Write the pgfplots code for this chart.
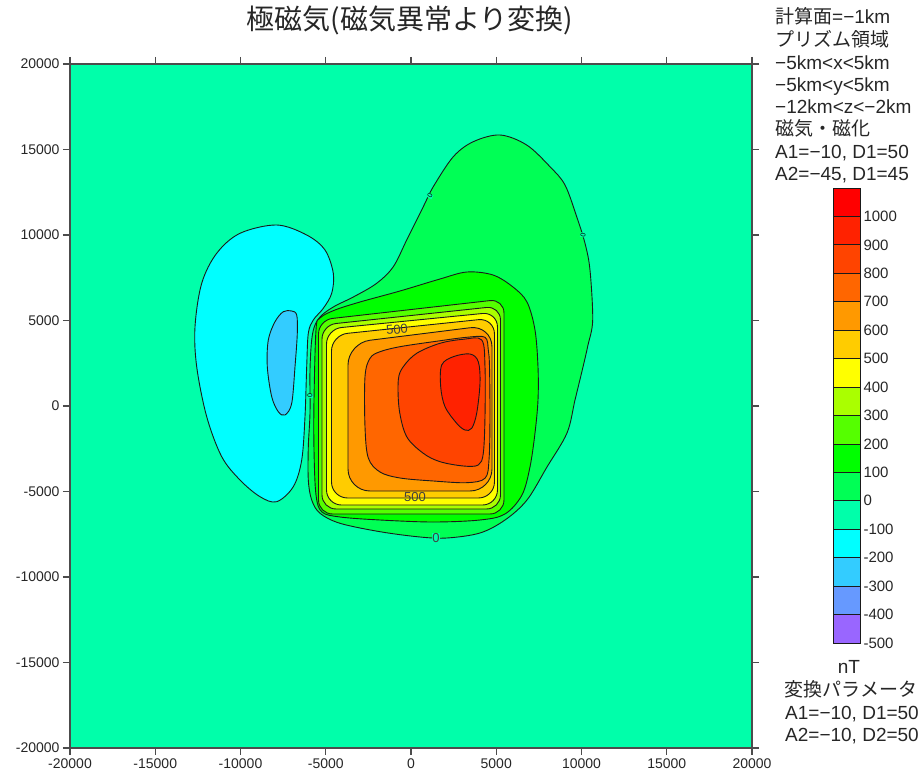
\documentclass[border=0pt]{standalone}
\usepackage{pgfplots}
\pgfplotsset{compat=1.18}
\usepackage{fontspec}
\setmainfont{Liberation Sans}
\newfontfamily\cjk{Noto Sans CJK JP}
\definecolor{mint}{HTML}{00FFAA}
\definecolor{gzero}{HTML}{00FF55}
\definecolor{gone}{HTML}{00FF00}
\definecolor{ctwo}{HTML}{55FF00}
\definecolor{cthree}{HTML}{AAFF00}
\definecolor{cfour}{HTML}{FFFF00}
\definecolor{cfive}{HTML}{FFCC00}
\definecolor{csix}{HTML}{FF9900}
\definecolor{cseven}{HTML}{FF6600}
\definecolor{ceight}{HTML}{FF4400}
\definecolor{cnine}{HTML}{FF2200}
\definecolor{cten}{HTML}{FF0000}
\definecolor{nonecyan}{HTML}{00FFFF}
\definecolor{ntwo}{HTML}{33CCFF}
\definecolor{nthree}{HTML}{6699FF}
\definecolor{nfour}{HTML}{9966FF}
\definecolor{cline}{HTML}{1A1A1A}
\pgfplotsset{contour/.style={draw=cline, line width=0.9pt, smooth cycle, tension=0.55},
  rcontour/.style={draw=cline, line width=0.9pt, sharp plot, rounded corners=#1}}
\begin{document}
\begin{tikzpicture}
\path[use as bounding box] (0pt,0pt) rectangle (921pt,779pt);
\begin{axis}[
  at={(70pt,31pt)}, anchor=south west,
  scale only axis, width=682pt, height=684pt,
  xmin=-20000, xmax=20000, ymin=-20000, ymax=20000,
  xtick={-20000,-15000,...,20000}, ytick={-20000,-15000,...,20000},
  scaled ticks=false,
  /pgf/number format/fixed, /pgf/number format/1000 sep={},
  /pgf/number format/assume math mode=true,
  tick align=outside, major tick length=7pt,
  tick label style={font=\fontsize{14}{14}\selectfont, text=black!85},
  axis line style={line width=1.3pt, draw=black!70},
  tick style={line width=1.3pt, draw=black!70},
  axis background/.style={fill=mint},
]
% 0 contour region (0..100)
\addplot[contour, fill=gzero] coordinates {(5220,15848) (6786,15263) (8152,13994) (9032,12924) (9718,11070) (10205,9515) (10498,7953) (10657,5029) (10381,3567) (10088,2281) (9619,351) (9149,-1579) (7976,-3567) (6803,-5497) (5513,-6667) (4047,-7427) (2111,-7719) (528,-7661) (-1818,-7351) (-4164,-6860) (-5337,-6275) (-5824,-5497) (-6023,-4328) (-6023,-2380) (-5924,-409) (-5924,2105) (-5824,3860) (-5630,4737) (-5220,5322) (-4457,5848) (-3384,6374) (-2012,7175) (-1038,8146) (-252,9708) (721,11655) (1308,12825) (2481,14579) (3654,15456)};
% -100 region
\addplot[contour, fill=nonecyan] coordinates {(-7877,10585) (-6117,10000) (-5044,9123) (-4557,7760) (-4651,6591) (-5144,5713) (-5730,5029) (-6023,4251) (-6117,2298) (-6217,-626) (-6410,-3158) (-6903,-4719) (-7877,-5597) (-8856,-5304) (-10029,-4328) (-11102,-2965) (-11982,-626) (-12569,2298) (-12668,4637) (-12275,7175) (-11396,8930) (-10029,10099)};
% -200 region
\addplot[contour, fill=ntwo] coordinates {(-6997,5556) (-6704,5322) (-6669,4251) (-6803,2298) (-6997,158) (-7390,-526) (-7783,-333) (-8170,544) (-8428,2298) (-8369,3860) (-7976,4930) (-7490,5515)};
% 100
\addplot[contour, fill=gone] coordinates {(-5572,4444) (-5337,5146) (-4457,5614) (-2991,6082) (-645,6725) (1701,7427) (3284,7836) (4809,7661) (5982,6959) (6803,6082) (7273,4444) (7449,2281) (7449,351) (7273,-1579) (6979,-3567) (6510,-5205) (5513,-6316) (4047,-6667) (1290,-6784) (-1818,-6667) (-4164,-6491) (-5220,-6199) (-5572,-5205) (-5689,-2573) (-5689,351)};
% 200
\addplot[rcontour=14pt, fill=ctwo] coordinates {(-5425,0) (-5425,5029) (5454,6257) (5454,-6316) (-5425,-6316)} -- cycle;
% 300
\addplot[rcontour=14pt, fill=cthree] coordinates {(-5220,0) (-5220,4737) (5249,5848) (5249,-6023) (-5220,-6023)} -- cycle;
% 400
\addplot[rcontour=15pt, fill=cfour] coordinates {(-4956,0) (-4956,4503) (5073,5497) (5073,-5790) (-4956,-5790)} -- cycle;
% 500
\addplot[rcontour=16pt, fill=cfive] coordinates {(-4663,0) (-4663,4152) (4897,5146) (4897,-5380) (-4663,-5380)} -- cycle;
% 600
\addplot[rcontour=22pt, fill=csix] coordinates {(-3695,0) (-3695,3684) (4751,4737) (4751,-4971) (-3695,-4971)} -- cycle;
% 700
\addplot[contour, fill=cseven] coordinates {(-2698,1713) (-2405,2789) (-1818,3175) (-645,3468) (1308,3760) (3267,4018) (4340,4018) (4534,3275) (4604,2298) (4633,-626) (4575,-3158) (4340,-4228) (3267,-4485) (1308,-4386) (-645,-4211) (-1818,-3860) (-2504,-3041) (-2698,-1211)};
% 800
\addplot[contour, fill=ceight] coordinates {(-745,1520) (-452,2298) (334,3082) (1701,3667) (3067,3901) (4147,3860) (4340,2298) (4340,-626) (4240,-2766) (3947,-3450) (3067,-3509) (1701,-3257) (721,-2766) (-252,-1795) (-686,-234)};
% 900
\addplot[contour, fill=cnine] coordinates {(1801,2398) (2481,2883) (3460,3041) (3947,2591) (4047,1327) (3853,-427) (3560,-1304) (3167,-1404) (2680,-1012) (1994,-41) (1742,1129)};
% contour labels
\node[font=\fontsize{13}{13}\selectfont, text=black!75, rotate=5, inner sep=0.5pt] at (axis cs:-821,4480) {500};
\node[font=\fontsize{13}{13}\selectfont, text=black!75, inner sep=0.5pt] at (axis cs:235,-5330) {500};
\node[font=\fontsize{13}{13}\selectfont, text=black!75, inner sep=0.5pt, fill=mint] at (axis cs:1466,-7740) {0};
\node[font=\fontsize{7}{7}\selectfont, text=black, rotate=90, inner sep=0.3pt, fill=mint] at (axis cs:-5924,585) {0};
\node[font=\fontsize{7}{7}\selectfont, text=black, rotate=60, inner sep=0.3pt, fill=mint] at (axis cs:1114,12281) {0};
\node[font=\fontsize{7}{7}\selectfont, text=black, rotate=80, inner sep=0.3pt, fill=mint] at (axis cs:10088,10000) {0};
\end{axis}
% colour bar
\begin{axis}[
  at={(833pt,136pt)}, anchor=south west,
  scale only axis, width=27pt, height=455pt,
  xmin=0, xmax=1, ymin=-500, ymax=1100,
  axis line style={draw=none}, xtick=\empty,
  ytick={-500,-400,...,1000}, ytick pos=right, yticklabel pos=right,
  major tick length=0pt,
  /pgf/number format/fixed, /pgf/number format/1000 sep={},
  /pgf/number format/assume math mode=true,
  yticklabel style={font=\fontsize{15}{15}\selectfont, text=black!85},
  clip=false,
]
\addplot[draw=cline, line width=0.8pt, fill=nfour] coordinates {(0,-500) (1,-500) (1,-400) (0,-400)} -- cycle;
\addplot[draw=cline, line width=0.8pt, fill=nthree] coordinates {(0,-400) (1,-400) (1,-300) (0,-300)} -- cycle;
\addplot[draw=cline, line width=0.8pt, fill=ntwo] coordinates {(0,-300) (1,-300) (1,-200) (0,-200)} -- cycle;
\addplot[draw=cline, line width=0.8pt, fill=nonecyan] coordinates {(0,-200) (1,-200) (1,-100) (0,-100)} -- cycle;
\addplot[draw=cline, line width=0.8pt, fill=mint] coordinates {(0,-100) (1,-100) (1,0) (0,0)} -- cycle;
\addplot[draw=cline, line width=0.8pt, fill=gzero] coordinates {(0,0) (1,0) (1,100) (0,100)} -- cycle;
\addplot[draw=cline, line width=0.8pt, fill=gone] coordinates {(0,100) (1,100) (1,200) (0,200)} -- cycle;
\addplot[draw=cline, line width=0.8pt, fill=ctwo] coordinates {(0,200) (1,200) (1,300) (0,300)} -- cycle;
\addplot[draw=cline, line width=0.8pt, fill=cthree] coordinates {(0,300) (1,300) (1,400) (0,400)} -- cycle;
\addplot[draw=cline, line width=0.8pt, fill=cfour] coordinates {(0,400) (1,400) (1,500) (0,500)} -- cycle;
\addplot[draw=cline, line width=0.8pt, fill=cfive] coordinates {(0,500) (1,500) (1,600) (0,600)} -- cycle;
\addplot[draw=cline, line width=0.8pt, fill=csix] coordinates {(0,600) (1,600) (1,700) (0,700)} -- cycle;
\addplot[draw=cline, line width=0.8pt, fill=cseven] coordinates {(0,700) (1,700) (1,800) (0,800)} -- cycle;
\addplot[draw=cline, line width=0.8pt, fill=ceight] coordinates {(0,800) (1,800) (1,900) (0,900)} -- cycle;
\addplot[draw=cline, line width=0.8pt, fill=cnine] coordinates {(0,900) (1,900) (1,1000) (0,1000)} -- cycle;
\addplot[draw=cline, line width=0.8pt, fill=cten] coordinates {(0,1000) (1,1000) (1,1100) (0,1100)} -- cycle;
\end{axis}
% title
\node[font=\cjk\fontsize{28}{28}\selectfont, text=black!85] at (410pt,759pt) {極磁気(磁気異常より変換)};
% right text block
\begin{scope}[every node/.style={anchor=base west, inner sep=0pt, font=\fontsize{19}{19}\selectfont, text=black!85}]
\node at (775pt,755pt) {{\cjk 計算面}=−1km};
\node at (775pt,732pt) {\cjk プリズム領域};
\node at (775pt,709pt) {−5km<x<5km};
\node at (775pt,687pt) {−5km<y<5km};
\node at (775pt,665pt) {−12km<z<−2km};
\node at (775pt,643pt) {\cjk 磁気・磁化};
\node at (775pt,620pt) {A1=−10, D1=50};
\node at (775pt,598pt) {A2=−45, D1=45};
\end{scope}
\begin{scope}[every node/.style={anchor=base, inner sep=0pt, font=\fontsize{19}{19}\selectfont, text=black!85}]
\node at (849pt,105pt) {nT};
\node at (851pt,82pt) {\cjk 変換パラメータ};
\node at (852pt,59pt) {A1=−10, D1=50};
\node at (852pt,37pt) {A2=−10, D2=50};
\end{scope}
\end{tikzpicture}
\end{document}
